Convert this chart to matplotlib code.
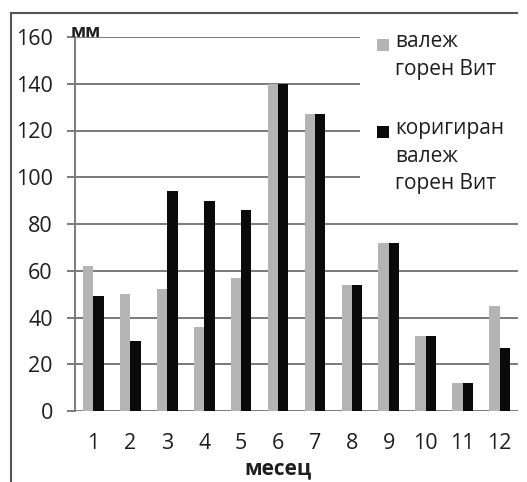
import matplotlib
matplotlib.use("Agg")
import matplotlib.pyplot as plt
from matplotlib.patches import Rectangle
from matplotlib.lines import Line2D
import numpy as np

months = ["1", "2", "3", "4", "5", "6", "7", "8", "9", "10", "11", "12"]
valez = [62, 50, 52, 36, 57, 140, 127, 54, 72, 32, 12, 45]
korigiran = [49, 30, 94, 90, 86, 140, 127, 54, 72, 32, 12, 27]
series_names = ["валеж\nгорен Вит", "коригиран\nвалеж\nгорен Вит"]
y_ticks = [0, 20, 40, 60, 80, 100, 120, 140, 160]

plt.rcParams['font.family'] = ['Open Sans', 'DejaVu Sans']

W, H = 527, 482
fig = plt.figure(figsize=(W / 100, H / 100), dpi=100)

def fx(x):
    return x / W

def fy(y):
    return 1 - y / H

ax = fig.add_axes([fx(75), fy(411), fx(518) - fx(75), fy(37) - fy(411)])

x = np.arange(len(months))
w = 0.28
gray = '#b4b4b4'
black = '#0a0a0a'
txt = '#1e1e1e'
ax.bar(x - w / 2, valez, w, color=gray, zorder=3)
ax.bar(x + w / 2, korigiran, w, color=black, zorder=3)

ax.set_xlim(-0.5, len(months) - 0.5)
ax.set_ylim(0, 160)
ax.set_yticks(y_ticks)
ax.set_xticks(x)
ax.set_xticklabels(months)
ax.yaxis.grid(True, color='#7a7a7a', linewidth=1.4, zorder=0)
ax.set_axisbelow(True)
for s in ['top', 'right', 'bottom']:
    ax.spines[s].set_visible(False)
ax.spines['left'].set_color('#7a7a7a')
ax.spines['left'].set_linewidth(1.4)
ax.tick_params(axis='y', length=6, width=1.4, color='#7a7a7a', pad=10,
               labelsize=15.5, labelcolor=txt, direction='out')
ax.tick_params(axis='x', length=0, pad=16, labelsize=15.5, labelcolor=txt)

# legend background and entries (manual, handle aligned with first line)
fig.add_artist(Rectangle((fx(360), fy(210)), fx(519) - fx(360), fy(20) - fy(210),
                         transform=fig.transFigure, facecolor='white',
                         edgecolor='none', zorder=5))
leg_items = [(gray, series_names[0], 45), (black, series_names[1], 132)]
for col, name, yy in leg_items:
    fig.add_artist(Rectangle((fx(377), fy(yy + 6)), fx(12), fy(0) - fy(12),
                             transform=fig.transFigure, facecolor=col,
                             edgecolor='none', zorder=6))
    fig.text(fx(395), fy(yy - 14), name, ha='left', va='top', fontsize=15,
             color=txt, linespacing=1.42, zorder=7)

fig.text(fx(86), fy(32), "мм", ha='center', va='center', fontsize=13,
         fontweight='bold', color=txt)
fig.text(fx(278), fy(469), "месец", ha='center', va='center', fontsize=15,
         fontweight='bold', color=txt)

# outer frame (left and top)
fig.add_artist(Line2D([fx(11), fx(11)], [fy(13), 0], transform=fig.transFigure,
                      color='#555555', linewidth=1.5))
fig.add_artist(Line2D([fx(11), fx(517)], [fy(13), fy(13)], transform=fig.transFigure,
                      color='#555555', linewidth=1.5))

fig.savefig("out.png", dpi=100, facecolor='white')
